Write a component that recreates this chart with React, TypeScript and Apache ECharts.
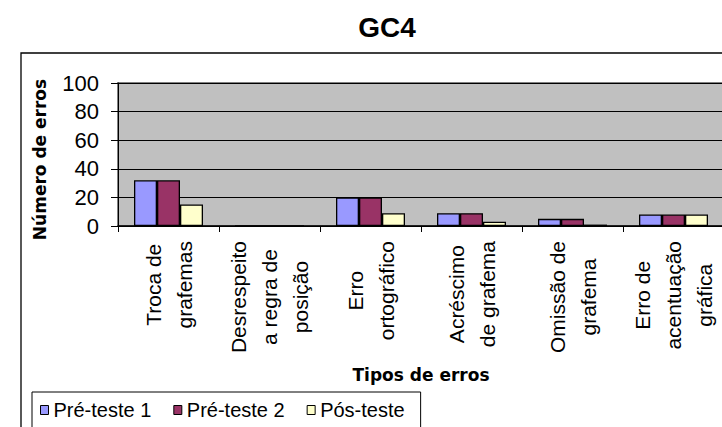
import React, { useEffect, useRef } from "react";
import * as echarts from "echarts";

const chartTitle = "GC4";
const categories = [
  "Troca de\ngrafemas",
  "Desrespeito\na regra de\nposição",
  "Erro\nortográfico",
  "Acréscimo\nde grafema",
  "Omissão de\ngrafema",
  "Erro de\nacentuação\ngráfica",
];
const seriesNames = ["Pré-teste 1", "Pré-teste 2", "Pós-teste"];
const preTeste1 = [32, 0, 20, 9, 5, 8];
const preTeste2 = [32, 0, 20, 9, 5, 8];
const posTeste = [15, 0, 9, 3, 1, 8];
const seriesColors = ["#9999FF", "#993366", "#FFFFCC"];
const yAxisName = "Número de erros";
const xAxisName = "Tipos de erros";

const FONT = "'Liberation Sans', Arial, sans-serif";
const BOLD_FONT = "'DejaVu Sans', 'Liberation Sans', Arial, sans-serif";

export default function App() {
  const ref = useRef<HTMLDivElement>(null);
  useEffect(() => {
    if (!ref.current) return;
    const chart = echarts.init(ref.current, null, { renderer: "svg" });
    const values = [preTeste1, preTeste2, posTeste];
    chart.setOption({
      animation: false,
      backgroundColor: "#ffffff",
      title: {
        text: chartTitle,
        left: 382,
        top: 8,
        textAlign: "center",
        textStyle: { fontFamily: FONT, fontSize: 28, fontWeight: "bold", color: "#000" },
      },
      graphic: [
        {
          type: "rect",
          silent: true,
          shape: { x: 21, y: 53, width: 800, height: 500 },
          style: { fill: "none", stroke: "#000", lineWidth: 1.3 },
        },
      ],
      legend: {
        data: seriesNames,
        left: 32,
        top: 392,
        orient: "horizontal",
        padding: [8, 16, 15, 8],
        borderColor: "#000",
        borderWidth: 1,
        itemGap: 22,
        itemWidth: 8,
        itemHeight: 9,
        icon: "rect",
        itemStyle: { borderColor: "#000", borderWidth: 1 },
        textStyle: { fontFamily: FONT, fontSize: 20, color: "#000", lineHeight: 20 },
      },
      grid: {
        left: 118,
        top: 83,
        right: -2,
        bottom: 201,
        containLabel: false,
        outerBoundsMode: "none",
        show: true,
        backgroundColor: "#C0C0C0",
        borderColor: "#808080",
        borderWidth: 2,
      },
      xAxis: {
        type: "category",
        data: categories,
        name: xAxisName,
        nameLocation: "middle",
        nameGap: 140,
        nameMoveOverlap: false,
        nameTextStyle: { fontFamily: BOLD_FONT, fontSize: 17, fontWeight: "bold", color: "#000" },
        axisLine: { show: true, lineStyle: { color: "#000", width: 1.5 } },
        axisTick: { show: true, length: 6, lineStyle: { color: "#000", width: 1 } },
        axisLabel: {
          interval: 0,
          rotate: 90,
          margin: 15,
          fontFamily: FONT,
          fontSize: 21,
          lineHeight: 31,
          color: "#000",
          formatter: (v: string) =>
            v
              .split("\n")
              .map((l) => `{c|${l}}`)
              .join("\n"),
          rich: {
            c: { align: "center", fontFamily: FONT, fontSize: 21, lineHeight: 31, color: "#000" },
          },
        },
        splitLine: { show: false },
      },
      yAxis: {
        type: "value",
        min: 0,
        max: 100,
        interval: 20,
        name: yAxisName,
        nameLocation: "middle",
        nameGap: 70,
        nameMoveOverlap: false,
        nameTextStyle: {
          fontFamily: BOLD_FONT,
          fontSize: 17,
          fontWeight: "bold",
          color: "#000",
          padding: [0, 10, 0, 0],
        },
        axisLine: { show: true, lineStyle: { color: "#000", width: 1 } },
        axisTick: { show: true, length: 7, lineStyle: { color: "#000", width: 1 } },
        axisLabel: { margin: 19, fontFamily: FONT, fontSize: 22, color: "#000" },
        splitLine: { show: true, lineStyle: { color: "#000", width: 1 } },
      },
      series: seriesNames.map((name, i) => ({
        name,
        type: "bar",
        data: values[i],
        barWidth: 23,
        barGap: "0%",
        itemStyle: { color: seriesColors[i], borderColor: "#000", borderWidth: 1.3 },
      })),
    });
    return () => chart.dispose();
  }, []);
  return (
    <div
      ref={ref}
      style={{ position: "absolute", left: 0, top: 0, width: 722, height: 427, background: "#fff" }}
    />
  );
}
